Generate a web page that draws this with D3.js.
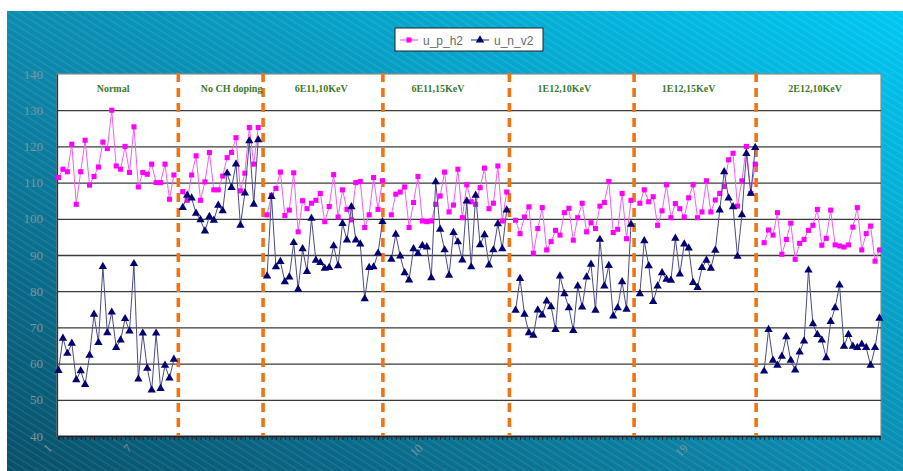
<!DOCTYPE html>
<html><head><meta charset="utf-8">
<script src="https://cdn.jsdelivr.net/npm/d3@7"></script>
<style>html,body{margin:0;padding:0;background:#fff;}svg{display:block;}</style>
</head><body>
<svg id="chart" width="903" height="471"></svg>
<script>
// ---- data ----
const groupNames = ["Normal","No CH doping","6E11,10KeV","6E11,15KeV","1E12,10KeV","1E12,15KeV","2E12,10KeV"];
const uph2_normal = [111.4,113.7,113,120.6,104,113,121.7,109.3,111.7,114.3,121.2,119.4,130,114.6,113.7,120,112.8,125.4,108.8,112.8,112.3,115.1,110,110,115.1,105.4,112.1];
const uph2_noch   = [107.5,105.1,112.1,117.4,105.1,110.2,118.3,108,108,111.8,116.9,118.3,122.4,107.7,112.6,125.2,115.1,125.2];
const uph2_6e11_10 = [101.1,106.5,108.4,112.9,100.9,102.4,112.7,96.4,105,102.8,104.3,105.1,107,99.2,103.4,112.2,100.5,108,102.6,99.7,110,110.3,97.6,101.1,111.4,102.6,110.5];
const uph2_6e11_15 = [101.1,106.8,107.4,108.8,97.6,104.5,111.7,99.4,99.2,99.4,104,106.3,112.9,101.9,103.8,113.7,100.3,109.4,104.7,104,108.6,114,102.8,104.3,114.6,99.4,107.4];
const uph2_1e12_10 = [99.6,95.9,100.5,103.3,90.5,97.3,103.1,91.4,93.7,96.8,95.5,101.7,102.9,94.1,100.3,104.3,96.4,98.9,97.3,103.5,104.5,110.3,96.2,97.1,107,94.5,105.1];
const uph2_1e12_15 = [104.3,108,104.7,106.1,98.2,102.2,109.4,100.3,104.2,102.8,100.5,105.8,109.4,100.3,101.9,110.5,101.9,105.2,107,108.9,116.3,118.1,103.5,110.5,120,107,115.1];
const uph2_2e12_10 = [93.4,96.9,95.5,101.7,90.2,94.3,98.8,88.8,93.2,94.3,96.8,98.2,102.6,92.7,94.6,102.4,92.8,92.5,92.2,92.8,97.7,103.1,91.4,95.9,98,88.3,91.4];

const unv2_normal = [58.1,67,62.8,65.6,55.5,58,54.2,62.3,73.6,65.8,86.8,68.5,74.2,64.4,66.5,72.4,69,87.6,55.7,68.4,58.7,52.7,68.4,53.1,59.5,56,61.2];
const unv2_noch   = [103.1,106.5,105.7,101.5,99.7,96.6,100.6,99.6,103.7,102.2,112.6,108.6,115.1,98.2,107.1,121.5,104,121.8];
const unv2_6e11_10 = [84.2,106.1,86.7,88.2,82.6,83.9,93.4,80.5,91.7,85.4,100.1,88.5,87.9,86.3,86.5,92.5,87,98.7,94.1,103.3,94.1,93,77.9,86.5,86.7,90.5,99.2];
const unv2_6e11_15 = [88.8,95.7,89.7,85.1,83.1,91.7,90.4,92.6,92.2,83.7,110.2,97.1,91.4,84.4,96.2,93.6,88.6,104.9,86.7,106.5,92.8,95.6,87.2,91.4,98.6,91.7,102.4];
const unv2_1e12_10 = [74.7,83.5,73.6,68.5,67.8,74.8,73.4,77.3,75.7,69.4,84.2,79.3,75.4,69.1,81.4,75.6,83.9,87.4,74.7,94.3,81.4,87.1,73.1,75.4,82.6,75,98.5];
const unv2_1e12_15 = [79.3,93.9,87,77.1,81.4,85.1,83.3,83,94.6,84.7,93,91.9,82.4,81,86.5,88.5,86.3,91.3,102.4,113,105.7,103.3,89.6,101.1,118,107,119.7];
const unv2_2e12_10 = [57.9,69.4,60.9,59.5,62,67.4,60.9,58.2,63.2,66.2,85.8,71,68,66.5,61.6,71.6,75.4,81.7,64.8,68,64.8,64.4,65.3,64.4,59.5,64.4,72.5];

const seriesNames = ["u_p_h2","u_n_v2"];
const yTicks = [40,50,60,70,80,90,100,110,120,130,140];
const xTickLabels = ["1","7","10","19"];
const xTickLabelAt = [0,18,83.6,143.3];        // category index
const dividerAt = [27,46.1,73.1,101.6,129.7,157.2]; // category index
const groupLabelAt = [12.3,39,59.2,85.5,114,142,170.5];

// ---- build full category sequence (blank category between groups) ----
function joinGroups(groups){
  const out=[];
  groups.forEach((g,i)=>{ if(i>0) out.push(null); g.forEach(v=>out.push(v)); });
  return out;
}
const uph2 = joinGroups([uph2_normal,uph2_noch,uph2_6e11_10,uph2_6e11_15,uph2_1e12_10,uph2_1e12_15,uph2_2e12_10]);
const unv2 = joinGroups([unv2_normal,unv2_noch,unv2_6e11_10,unv2_6e11_15,unv2_1e12_10,unv2_1e12_15,unv2_2e12_10]);
const categories = d3.range(uph2.length);

// ---- layout ----
const W=903,H=471;
const L=57,R=881,T=74,B=436;
const svg=d3.select("#chart");
const defs=svg.append("defs");
const grad=defs.append("linearGradient").attr("id","bg").attr("x1","0").attr("y1","1").attr("x2","1").attr("y2","0");
grad.append("stop").attr("offset","0%").attr("stop-color","#08506a");
grad.append("stop").attr("offset","45%").attr("stop-color","#0c86aa");
grad.append("stop").attr("offset","100%").attr("stop-color","#00c8f2");
const pat=defs.append("pattern").attr("id","stripes").attr("patternUnits","userSpaceOnUse")
  .attr("width",6).attr("height",6).attr("patternTransform","rotate(32)");
pat.append("rect").attr("x",0).attr("y",0).attr("width",6).attr("height",1.2).attr("fill","rgba(255,255,255,0.10)");

svg.append("rect").attr("x",7).attr("y",11).attr("width",W-7).attr("height",H-11).attr("fill","url(#bg)");
svg.append("rect").attr("x",7).attr("y",11).attr("width",W-7).attr("height",H-11).attr("fill","url(#stripes)");

// plot area
svg.append("rect").attr("x",L).attr("y",T).attr("width",R-L).attr("height",B-T)
  .attr("fill","#fff").attr("stroke","#8a8a8a").attr("stroke-width",1.2);

const x=d3.scalePoint().domain(categories).range([58.5,879.5]);
const xl=d3.scaleLinear().domain([0,categories.length-1]).range([58.5,879.5]);
const y=d3.scaleLinear().domain([40,140]).range([B,T]);

// grid
const grid=svg.append("g").attr("transform",`translate(${L},0)`)
  .call(d3.axisLeft(y).tickValues(yTicks.filter(v=>v>40&&v<140)).tickSize(-(R-L)).tickFormat(""));
grid.select(".domain").remove();
grid.selectAll("line").attr("stroke","#3a3a3a").attr("stroke-width",1.3);

// y axis labels
const ya=svg.append("g").attr("transform",`translate(${L},0)`)
  .call(d3.axisLeft(y).tickValues(yTicks).tickSize(0).tickPadding(14));
ya.select(".domain").attr("stroke","#333").attr("stroke-width",1.3);
ya.selectAll("text").attr("fill","#7f949c").attr("font-family","Liberation Serif").attr("font-size",13);

// x axis
const xa=svg.append("g").attr("transform",`translate(0,${B})`)
  .call(d3.axisBottom(x).tickSize(4).tickFormat(""));
xa.select(".domain").attr("stroke","#222").attr("stroke-width",1.3);
xa.selectAll(".tick line").attr("stroke","#222").attr("stroke-width",1);
svg.append("g").selectAll("text").data(xTickLabels).join("text")
  .attr("transform",(d,i)=>`translate(${xl(xTickLabelAt[i])-6},${B+13}) rotate(-45)`)
  .attr("text-anchor","end").attr("font-family","Liberation Serif").attr("font-size",12)
  .attr("fill","#7f949c").text(d=>d);

// dividers
svg.append("g").selectAll("line").data(dividerAt).join("line")
  .attr("x1",d=>xl(d)).attr("x2",d=>xl(d)).attr("y1",T-1).attr("y2",B)
  .attr("stroke","#f07414").attr("stroke-width",3.6).attr("stroke-dasharray","9,6");

// group labels
svg.append("g").selectAll("text").data(groupNames).join("text")
  .attr("x",(d,i)=>xl(groupLabelAt[i])).attr("y",92).attr("text-anchor","middle")
  .attr("font-family","Liberation Serif").attr("font-weight","bold").attr("font-size",10)
  .attr("fill","#3d7a2e").text(d=>d);

// series
const line=d3.line().defined(d=>d.v!=null).x(d=>x(d.i)).y(d=>y(d.v));
const colP="#ff00ff", colN="#000070";
const dP=uph2.map((v,i)=>({i,v})), dN=unv2.map((v,i)=>({i,v}));
svg.append("path").datum(dP).attr("d",line).attr("fill","none").attr("stroke","#f060f0").attr("stroke-width",1);
svg.append("g").selectAll("path").data(dP.filter(d=>d.v!=null)).join("path")
  .attr("d",d3.symbol(d3.symbolSquare,26)).attr("transform",d=>`translate(${x(d.i)},${y(d.v)})`).attr("fill",colP);
svg.append("path").datum(dN).attr("d",line).attr("fill","none").attr("stroke","#4a4a8c").attr("stroke-width",1);
svg.append("g").selectAll("path").data(dN.filter(d=>d.v!=null)).join("path")
  .attr("d",d3.symbol(d3.symbolTriangle,30)).attr("transform",d=>`translate(${x(d.i)},${y(d.v)})`).attr("fill",colN);

// legend
const lg=svg.append("g");
lg.append("rect").attr("x",395).attr("y",28).attr("width",148).attr("height",23).attr("fill","#fff").attr("stroke","#222").attr("stroke-width",1);
const items=[{name:seriesNames[0],c:colP,lc:"#f060f0",sym:d3.symbolSquare,s:26,x:400},{name:seriesNames[1],c:colN,lc:"#4a4a8c",sym:d3.symbolTriangle,s:30,x:471}];
items.forEach(it=>{
  lg.append("line").attr("x1",it.x).attr("x2",it.x+18).attr("y1",40).attr("y2",40).attr("stroke",it.lc).attr("stroke-width",1.2);
  lg.append("path").attr("d",d3.symbol(it.sym,it.s)).attr("transform",`translate(${it.x+9},40)`).attr("fill",it.c);
  lg.append("text").attr("x",it.x+23).attr("y",44.5).attr("font-family","Liberation Sans").attr("font-size",12)
    .attr("fill","#6a6a6a").text(it.name);
});
</script>
</body></html>
